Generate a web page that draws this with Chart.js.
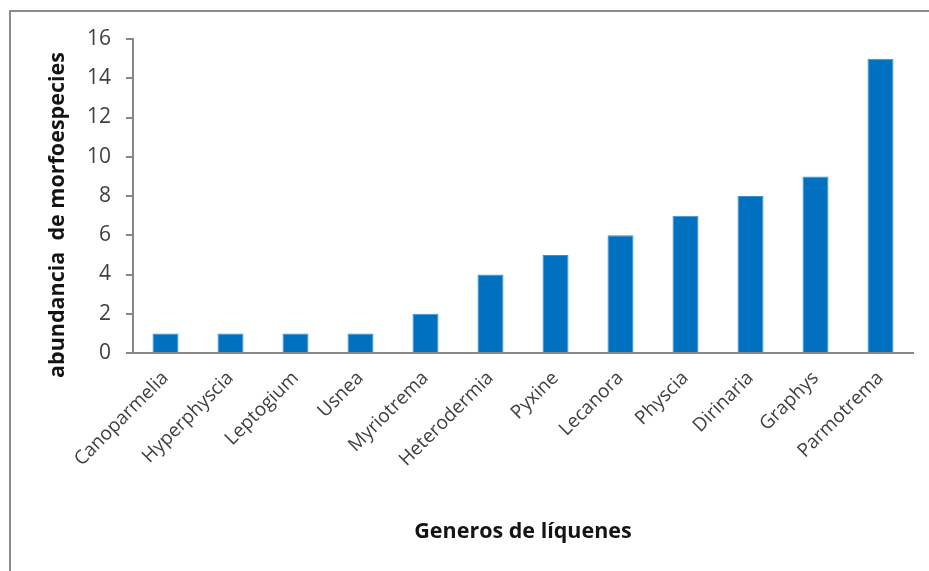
<!DOCTYPE html>
<html>
<head>
<meta charset="utf-8">
<script src="https://cdn.jsdelivr.net/npm/chart.js@4/dist/chart.umd.min.js"></script>
<style>
  html, body { margin: 0; padding: 0; background: #fff; width: 929px; height: 571px; overflow: hidden; }
  #frame { position: absolute; left: 9px; top: 10px; width: 960px; height: 600px;
           border-top: 2px solid #8c8c8c; border-left: 2px solid #8c8c8c; }
  #wrap { position: absolute; left: 0; top: 0; width: 929px; height: 571px; }
</style>
</head>
<body>
<div id="frame"></div>
<div id="wrap"><canvas id="c" width="929" height="571"></canvas></div>
<script>
// Géneros de líquenes y número de morfoespecies por género
const generos = ['Canoparmelia', 'Hyperphyscia', 'Leptogium', 'Usnea', 'Myriotrema',
                 'Heterodermia', 'Pyxine', 'Lecanora', 'Physcia', 'Dirinaria', 'Graphys', 'Parmotrema'];
const abundancia = [1, 1, 1, 1, 2, 4, 5, 6, 7, 8, 9, 15];
const yMin = 0;
const yMax = 16;
const yPaso = 2;
const tituloX = 'Generos de líquenes';
const tituloY = 'abundancia  de morfoespecies';

const FONT = "'Open Sans', Lato, sans-serif";
const axisGray = '#878787';
const textColor = '#404040';
const titleColor = '#141414';
const titleSize = 21.5;

// Título vertical del eje Y, algo desplazado hacia abajo respecto al área del gráfico
const tituloEjeY = {
  id: 'tituloEjeY',
  afterDraw(chart) {
    const { ctx, chartArea } = chart;
    ctx.save();
    ctx.translate(chartArea.left - 75, (chartArea.top + chartArea.bottom) / 2 + 19);
    ctx.rotate(-Math.PI / 2);
    ctx.font = `bold ${titleSize}px ${FONT}`;
    ctx.fillStyle = titleColor;
    ctx.textAlign = 'center';
    ctx.textBaseline = 'middle';
    ctx.fillText(tituloY, 0, 0);
    ctx.restore();
  }
};

new Chart(document.getElementById('c'), {
  type: 'bar',
  data: {
    labels: generos,
    datasets: [{
      data: abundancia,
      backgroundColor: '#0070C0',
      borderColor: '#3F8FD2',
      borderWidth: 1,
      barPercentage: 0.4,
      categoryPercentage: 1.0
    }]
  },
  plugins: [tituloEjeY],
  options: {
    responsive: false,
    animation: false,
    devicePixelRatio: 1,
    layout: { padding: { left: 50, top: 39, right: 16, bottom: 26 } },
    plugins: { legend: { display: false }, tooltip: { enabled: false } },
    scales: {
      x: {
        grid: { display: false },
        border: { display: true, color: axisGray, width: 2 },
        ticks: {
          autoSkip: false, minRotation: 45, maxRotation: 45, padding: 6,
          color: textColor, font: { family: FONT, size: 19 }
        },
        title: {
          display: true, text: tituloX, color: titleColor,
          font: { family: FONT, size: titleSize, weight: 'bold' }, padding: { top: 0, bottom: 0 }
        },
        afterFit: (s) => { s.height = 192; }
      },
      y: {
        min: yMin, max: yMax,
        grid: { display: true, drawOnChartArea: false, drawTicks: true, tickLength: 7, color: axisGray, lineWidth: 2 },
        border: { display: true, color: axisGray, width: 2 },
        ticks: {
          stepSize: yPaso, padding: 15, color: textColor,
          font: { family: FONT, size: 21 }
        },
        afterFit: (s) => { s.width = 83; }
      }
    }
  }
});
</script>
</body>
</html>
